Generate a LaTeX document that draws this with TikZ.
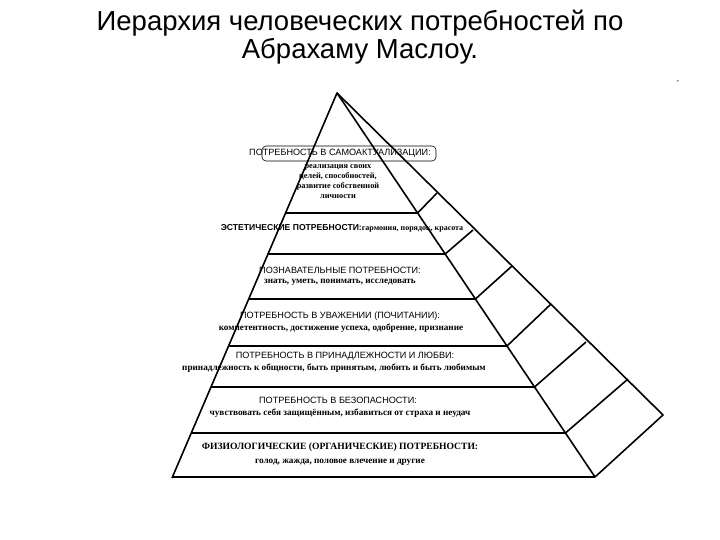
\documentclass[tikz,border=0pt]{standalone}
\usepackage{fontspec}
\setmainfont{Liberation Serif}
\newfontfamily\ttl{Liberation Sans}
\begin{document}
\begin{tikzpicture}[x=1pt,y=-1pt,
  edge/.style={line width=1.6pt,line join=round},
  lvl/.style={line width=2pt},
  head/.style={font=\ttl\fontsize{9.1}{10}\selectfont,inner sep=0pt},
  bhead/.style={font=\bfseries\fontsize{9.6}{10}\selectfont,inner sep=0pt},
  sub/.style={font=\bfseries\fontsize{9.2}{10}\selectfont,inner sep=0pt,align=center},
  title/.style={font=\ttl\fontsize{27.5}{28}\selectfont,inner sep=0pt,align=center}]
\useasboundingbox (0,0) rectangle (720,540);
\node[title] (t) at (360,37) {Иерархия человеческих потребностей по\\Абрахаму Маслоу.};
\node[inner sep=0pt,font=\ttl\fontsize{8}{8}\selectfont] (dash) at (678,82) {-};
% pyramid
\coordinate (A) at (337,93);
\coordinate (BL) at (172,478);
\coordinate (BR) at (595,477);
\coordinate (O) at (663,415);
\draw[edge] (BL) -- (A) -- (BR);
\draw[edge] (A) -- (O) -- (BR);
% levels
\foreach \y in {213,254,299,346,387,433,477}{
  \draw[lvl] ({337-0.4286*(\y-93)},\y) -- ({337+0.6719*(\y-93)},\y);
}
% rungs
\foreach \yi/\xo/\yo in {213/437/193,254/473/230,299/512/266,346/551/304,387/586/342,433/628/379}{
  \draw[edge] ({337+0.6719*(\yi-93)},\yi) -- (\xo,\yo);
}
% texts
\node[head] (h1) at (340,153) {ПОТРЕБНОСТЬ В САМОАКТУАЛИЗАЦИИ:};
\draw[line width=0.6pt,rounded corners=4pt] (262,146) rectangle (436,161);
\node[sub,font=\bfseries\fontsize{8.3}{10}\selectfont] (s1) at (338,182) {реализация своих\\целей, способностей,\\развитие собственной\\личности};
\node[inner sep=0pt] (h2) at (342,228) {{\bfseries\ttl\fontsize{8.6}{9}\selectfont ЭСТЕТИЧЕСКИЕ ПОТРЕБНОСТИ:}{\bfseries\fontsize{8}{9}\selectfont гармония, порядок, красота}};
\node[head] (h3) at (340,270) {ПОЗНАВАТЕЛЬНЫЕ ПОТРЕБНОСТИ:};
\node[sub] (s3) at (340,282) {знать, уметь, понимать, исследовать};
\node[head] (h4) at (340,316) {ПОТРЕБНОСТЬ В УВАЖЕНИИ (ПОЧИТАНИИ):};
\node[sub] (s4) at (341,328) {компетентность, достижение успеха, одобрение, признание};
\node[head] (h5) at (345,356) {ПОТРЕБНОСТЬ В ПРИНАДЛЕЖНОСТИ И ЛЮБВИ:};
\node[sub] (s5) at (334,368) {принадлежность к общности, быть принятым, любить и быть любимым};
\node[head] (h6) at (338,400) {ПОТРЕБНОСТЬ В БЕЗОПАСНОСТИ:};
\node[sub] (s6) at (340,413) {чувствовать себя защищённым, избавиться от страха и неудач};
\node[bhead] (h7) at (340,447) {ФИЗИОЛОГИЧЕСКИЕ (ОРГАНИЧЕСКИЕ) ПОТРЕБНОСТИ:};
\node[sub] (s7) at (340,462) {голод, жажда, половое влечение и другие};
\end{tikzpicture}
\end{document}
